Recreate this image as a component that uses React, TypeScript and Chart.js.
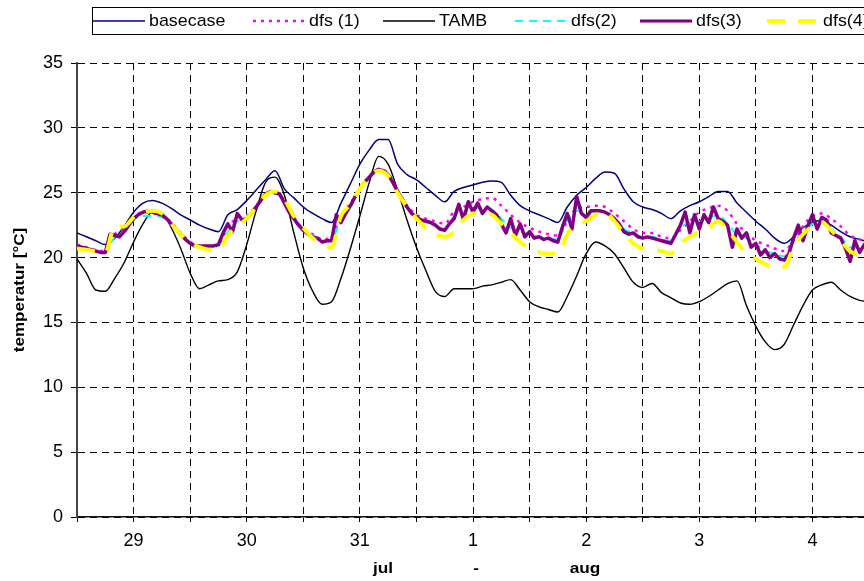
import { useEffect, useRef } from 'react';
import { Chart, registerables } from 'chart.js';

Chart.register(...registerables);

// Time axis in hours from 28 jul 12:00; a tick every 12 h, day names sit at noon.
const DAY_NAMES = ['29', '30', '31', '1', '2', '3', '4'];
const HOUR_MAX = 168;
const Y_MAX = 35;

// Two-hourly series (0, 2, 4 ... 168 h), °C
const BASECASE = [
  21.9, 21.6, 21.3, 21.0, 21.5, 22.4, 23.5, 24.2, 24.4, 24.2,
  23.8, 23.3, 22.9, 22.5, 22.2, 22.0, 23.3, 23.7, 24.4, 25.2,
  26.0, 26.7, 25.3, 24.6, 23.9, 23.4, 23.0, 22.7, 24.2, 25.7,
  27.2, 28.3, 29.1, 29.1, 27.2, 26.4, 26.0, 25.4, 24.8, 24.3,
  25.1, 25.4, 25.6, 25.8, 25.9, 25.8, 24.8, 24.0, 23.6, 23.3,
  23.0, 22.7, 23.9, 24.8, 25.4, 26.1, 26.6, 26.5, 25.3, 24.3,
  23.9, 23.7, 23.4, 23.0, 23.6, 24.0, 24.3, 24.7, 25.1, 25.1,
  24.2, 23.5, 22.8, 22.2, 21.5, 21.1, 21.6, 22.3, 22.7, 22.9,
  22.5, 22.0, 21.6, 21.4, 21.2,
];

const TAMB = [
  19.9, 18.8, 17.5, 17.4, 18.4, 19.6, 21.2, 22.6, 23.5, 23.4,
  22.3, 20.7, 18.8, 17.6, 17.9, 18.2, 18.3, 18.9, 21.0, 23.6,
  25.8, 26.2, 24.8, 21.9, 19.2, 17.4, 16.4, 16.6, 18.4, 20.7,
  23.2, 25.8, 27.8, 27.2, 25.2, 22.9, 20.8, 19.0, 17.4, 17.0,
  17.6, 17.6, 17.6, 17.8, 17.9, 18.1, 18.3, 17.5, 16.6, 16.2,
  16.0, 15.8, 17.0, 18.6, 20.3, 21.2, 20.9, 20.3, 19.2, 18.1,
  17.7, 18.0, 17.3, 16.9, 16.5, 16.4, 16.6, 17.0, 17.5, 18.0,
  18.2, 16.3, 14.7, 13.5, 12.9, 13.3, 14.8, 16.3, 17.5, 17.9,
  18.1, 17.5, 17.0, 16.7, 16.6,
];

const DFS1 = [
  21.0, 20.8, 20.6, 20.5, 21.8, 22.2, 23.1, 23.5, 23.4, 23.3,
  22.7, 21.9, 21.2, 20.9, 20.9, 21.0, 22.4, 23.0, 23.2, 24.0,
  24.9, 25.1, 24.4, 23.1, 22.2, 21.8, 21.4, 21.6, 23.2, 24.2,
  25.3, 26.3, 26.8, 26.5, 25.2, 24.0, 23.3, 23.0, 22.8, 22.6,
  23.6, 23.9, 24.3, 24.5, 24.6, 24.0, 23.3, 22.7, 22.3, 22.0,
  21.8, 21.7, 22.8, 23.8, 23.9, 24.0, 23.9, 23.4, 22.8, 22.2,
  21.9, 21.9, 21.6, 21.5, 22.1, 22.8, 23.5, 23.8, 24.0, 23.6,
  22.6, 21.9, 21.3, 21.0, 20.7, 20.5, 21.3, 22.4, 23.2, 23.4,
  23.0, 22.4, 21.7, 21.4, 21.2,
];

const DFS2 = [
  20.9, 20.7, 20.5, 20.4, 21.6, 22.0, 22.9, 23.2, 23.2, 23.1,
  22.5, 21.7, 21.1, 20.8, 20.8, 20.9, 22.0, 22.8, 23.0, 23.9,
  24.8, 25.0, 24.2, 23.0, 22.1, 21.7, 21.3, 21.4, 23.0, 24.0,
  25.2, 26.2, 26.7, 26.4, 25.1, 23.9, 23.1, 22.8, 22.5, 22.2,
  23.2, 23.5, 23.8, 23.8, 23.7, 23.0, 22.3, 22.0, 21.8, 21.6,
  21.5, 21.4, 22.9, 23.6, 23.4, 23.6, 23.5, 23.0, 22.2, 21.9,
  21.6, 21.6, 21.4, 21.3, 22.3, 22.7, 22.8, 23.0, 23.3, 22.6,
  21.8, 21.5, 21.0, 20.5, 20.3, 20.1, 21.2, 21.9, 22.6, 22.9,
  22.2, 21.6, 20.8, 20.8, 20.8,
];

const DFS4 = [
  20.7, 20.6, 20.5, 20.4, 22.4, 22.4, 23.1, 23.5, 23.6, 23.4,
  22.6, 21.8, 21.1, 20.8, 20.6, 20.6, 21.7, 22.4, 23.0, 23.9,
  24.8, 25.1, 24.5, 23.2, 22.3, 21.5, 21.0, 20.8, 23.2, 24.1,
  25.3, 26.2, 26.7, 26.3, 25.0, 23.9, 23.0, 22.3, 21.8, 21.6,
  22.0, 22.9, 23.4, 23.4, 23.3, 22.6, 21.9, 21.2, 20.7, 20.4,
  20.3, 20.3, 21.8, 22.5, 22.8, 23.3, 23.5, 22.8, 21.9, 21.1,
  20.7, 20.6, 20.5, 20.3, 21.1, 21.6, 22.0, 22.3, 22.8, 22.1,
  21.2, 20.3, 19.9, 19.5, 19.3, 19.3, 20.8, 21.8, 22.4, 22.7,
  22.1, 21.3, 20.5, 20.2, 20.2,
];

// Hourly series (0, 1, 2 ... 168 h), °C
const DFS3 = [
  20.9, 20.8, 20.7, 20.6, 20.5, 20.4, 20.4, 21.8, 21.7, 21.6, 22.0, 22.5,
  23.0, 23.3, 23.5, 23.6, 23.5, 23.4, 23.3, 23.0, 22.6, 22.2, 21.8, 21.4,
  21.1, 20.9, 20.9, 20.9, 20.9, 20.9, 21.0, 21.9, 22.6, 22.0, 23.4, 22.9,
  23.0, 23.4, 23.9, 24.4, 24.9, 25.1, 25.0, 24.9, 24.2, 23.5, 23.0, 22.5,
  22.1, 21.8, 21.6, 21.5, 21.2, 21.3, 21.3, 23.3, 22.7, 23.4, 24.0, 24.7,
  25.3, 25.8, 26.2, 26.6, 26.8, 26.7, 26.4, 25.8, 25.1, 24.5, 23.9, 23.4,
  23.1, 22.9, 22.8, 22.7, 22.5, 22.2, 22.1, 22.6, 23.0, 24.1, 22.9, 24.3,
  23.5, 24.2, 23.4, 23.9, 23.6, 23.3, 22.6, 21.9, 23.0, 21.7, 22.6, 21.6,
  22.0, 21.5, 21.6, 21.4, 21.5, 21.3, 21.2, 22.4, 23.4, 22.2, 24.7, 23.4,
  23.1, 23.6, 23.6, 23.6, 23.5, 23.3, 23.0, 22.6, 22.0, 21.8, 21.9, 21.6,
  21.5, 21.6, 21.5, 21.4, 21.3, 21.2, 21.1, 21.8, 22.5, 23.5, 21.9, 23.3,
  22.2, 23.3, 22.7, 23.9, 23.0, 22.8, 22.5, 20.8, 22.2, 21.5, 21.9, 20.8,
  21.1, 20.2, 20.6, 20.0, 20.3, 19.9, 19.8, 20.3, 21.5, 22.5, 21.3, 22.4,
  23.3, 22.2, 23.1, 22.9, 21.9, 21.7, 21.5, 20.7, 19.7, 21.3, 20.4, 21.0,
  20.6,
];

const FONT = '"Liberation Sans", Arial, sans-serif';
const CANVAS_W = 880;
const CANVAS_H = 581;

// Legend sample start positions (px) and sample length
const LEGEND_X = [93, 253, 383, 515, 640, 767];
const LEGEND_SAMPLE = 52;

const toPoints = (values: number[], stepHours: number) =>
  values.map((y, i) => ({ x: i * stepHours, y }));

const drawStretched = (
  ctx: CanvasRenderingContext2D,
  text: string,
  x: number,
  y: number,
  sx: number,
) => {
  ctx.save();
  ctx.translate(x, y);
  ctx.scale(sx, 1);
  ctx.fillText(text, 0, 0);
  ctx.restore();
};

const decorations = {
  id: 'decorations',
  afterDraw(chart: Chart) {
    const ctx = chart.ctx;
    const area = chart.chartArea;

    // legend frame
    ctx.save();
    ctx.strokeStyle = '#000';
    ctx.lineWidth = 1;
    ctx.strokeRect(92.5, 7.5, CANVAS_W, 27);

    const legendY = 21;
    const order = [0, 1, 2, 3, 4, 5];
    order.forEach((dsIndex, k) => {
      const ds: any = chart.data.datasets[dsIndex];
      const x0 = LEGEND_X[k];
      ctx.save();
      ctx.strokeStyle = ds.borderColor;
      ctx.lineWidth = ds.legendWidth ?? ds.borderWidth;
      ctx.setLineDash(ds.borderDash || []);
      ctx.beginPath();
      ctx.moveTo(x0, legendY);
      ctx.lineTo(x0 + LEGEND_SAMPLE, legendY);
      ctx.stroke();
      ctx.restore();

      ctx.fillStyle = '#000';
      ctx.font = `17px ${FONT}`;
      ctx.textBaseline = 'middle';
      ctx.textAlign = 'left';
      drawStretched(ctx, ds.label, x0 + LEGEND_SAMPLE + 4, legendY, 1.05);
    });

    // y axis title
    ctx.fillStyle = '#000';
    ctx.font = `bold 14px ${FONT}`;
    ctx.textAlign = 'center';
    ctx.textBaseline = 'middle';
    ctx.save();
    ctx.translate(20, (area.top + area.bottom) / 2);
    ctx.rotate(-Math.PI / 2);
    ctx.scale(1.22, 1);
    ctx.fillText('temperatur [°C]', 0, 0);
    ctx.restore();

    // x axis title
    ctx.font = `bold 15px ${FONT}`;
    ctx.textBaseline = 'alphabetic';
    ctx.textAlign = 'center';
    drawStretched(ctx, 'jul', 383, 573, 1.15);
    drawStretched(ctx, '-', 476, 573, 1.15);
    drawStretched(ctx, 'aug', 585, 573, 1.15);
    ctx.restore();
  },
};

export default function App() {
  const canvasRef = useRef<HTMLCanvasElement | null>(null);

  useEffect(() => {
    const canvas = canvasRef.current;
    if (!canvas) return;

    const chart = new Chart(canvas, {
      type: 'line',
      data: {
        datasets: [
          {
            label: 'basecase',
            data: toPoints(BASECASE, 2),
            borderColor: '#000080',
            borderWidth: 1.5,
            cubicInterpolationMode: 'monotone',
            order: 5,
          },
          {
            label: 'dfs (1)',
            data: toPoints(DFS1, 2),
            borderColor: '#FF00FF',
            borderWidth: 2.5,
            borderDash: [3, 5],
            cubicInterpolationMode: 'monotone',
            order: 4,
          },
          {
            label: 'TAMB',
            data: toPoints(TAMB, 2),
            borderColor: '#000000',
            borderWidth: 1.4,
            cubicInterpolationMode: 'monotone',
            order: 3,
          },
          {
            label: 'dfs(2)',
            data: toPoints(DFS2, 2),
            borderColor: '#00FFFF',
            borderWidth: 2,
            borderDash: [8, 6],
            cubicInterpolationMode: 'monotone',
            order: 2,
          },
          {
            label: 'dfs(3)',
            data: toPoints(DFS3, 1),
            borderColor: '#800080',
            borderWidth: 3.5,
            legendWidth: 3,
            order: 1,
          } as any,
          {
            label: 'dfs(4)',
            data: toPoints(DFS4, 2),
            borderColor: '#FFFF00',
            borderWidth: 4,
            borderDash: [18, 13],
            cubicInterpolationMode: 'monotone',
            order: 0,
          },
        ],
      },
      options: {
        responsive: false,
        animation: false,
        devicePixelRatio: 1,
        events: [],
        layout: { padding: { left: 0, top: 63, right: CANVAS_W - 869, bottom: 0 } },
        elements: { point: { radius: 0 }, line: { borderCapStyle: 'butt', borderJoinStyle: 'round' } },
        plugins: { legend: { display: false }, tooltip: { enabled: false }, title: { display: false } },
        scales: {
          x: {
            type: 'linear',
            min: 0,
            max: HOUR_MAX,
            ticks: {
              stepSize: 12,
              autoSkip: false,
              maxRotation: 0,
              minRotation: 0,
              padding: 8,
              color: '#000',
              font: { family: FONT, size: 18 },
              callback: (v: any) => {
                const h = Number(v);
                return h % 24 === 12 ? DAY_NAMES[(h - 12) / 24] : '';
              },
            },
            grid: {
              color: '#000',
              lineWidth: 1,
              tickLength: 5,
              tickColor: '#000',
              tickBorderDash: [],
            },
            border: { color: '#111', width: 1.5, dash: [7, 5] },
            afterFit: (scale: any) => {
              scale.height = CANVAS_H - 517;
            },
          },
          y: {
            min: 0,
            max: Y_MAX,
            ticks: {
              stepSize: 5,
              padding: 8,
              color: '#000',
              font: { family: FONT, size: 18 },
            },
            grid: {
              color: '#000',
              lineWidth: 1,
              tickLength: 6,
              tickColor: '#000',
              tickBorderDash: [],
            },
            border: { color: '#444', width: 2, dash: [7, 5] },
            afterFit: (scale: any) => {
              scale.width = 77;
            },
          },
        },
      },
      plugins: [decorations],
    } as any);

    return () => chart.destroy();
  }, []);

  return (
    <div
      style={{
        position: 'fixed',
        left: 0,
        top: 0,
        width: 864,
        height: 581,
        overflow: 'hidden',
        background: '#fff',
      }}
    >
      <canvas ref={canvasRef} width={CANVAS_W} height={CANVAS_H} style={{ display: 'block' }} />
    </div>
  );
}
